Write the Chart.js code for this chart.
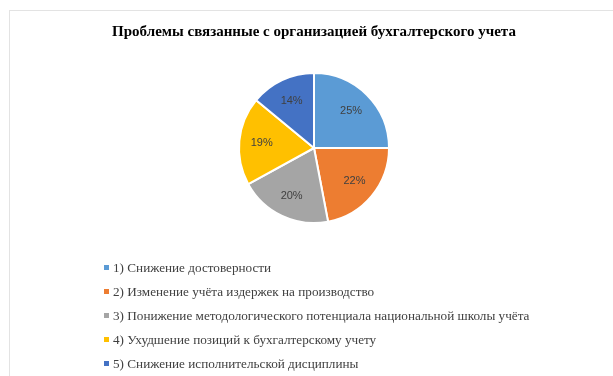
<!DOCTYPE html>
<html>
<head>
<meta charset="utf-8">
<script src="https://cdn.jsdelivr.net/npm/chart.js@4"></script>
<style>
  body { margin: 0; background: #fff; }
  #wrap { position: relative; width: 613px; height: 376px; overflow: hidden; }
  #frame { position: absolute; left: 9px; top: 10px; width: 620px; height: 380px;
           border-left: 1px solid #e3e3e3; border-top: 1px solid #e3e3e3; }
  #pieChart { position: absolute; left: 0; top: 0; }
  #legend { position: absolute; left: 104px; top: 259px; font-family: 'Liberation Serif', serif;
            font-size: 13.2px; color: #404040; }
  #legend div { height: 24px; line-height: 18px; white-space: nowrap; }
  #legend span.box { display: inline-block; width: 5px; height: 5px; margin-right: 4px; vertical-align: 2px; }
</style>
</head>
<body>
<div id="wrap">
  <div id="frame"></div>
  <canvas id="pieChart" width="613" height="376"></canvas>
  <div id="legend"></div>
</div>
<script>
// chart data
const title = 'Проблемы связанные с организацией бухгалтерского учета';
const labels = [
  '1) Снижение достоверности',
  '2) Изменение учёта издержек на производство',
  '3) Понижение методологического потенциала национальной школы учёта',
  '4) Ухудшение позиций к бухгалтерскому учету',
  '5) Снижение исполнительской дисциплины',
];
const values = [25, 22, 20, 19, 14];
const colors = ['#5B9BD5', '#ED7D31', '#A5A5A5', '#FFC000', '#4472C4'];

// percent labels inside the slices
const sliceLabels = {
  id: 'sliceLabels',
  afterDatasetsDraw(chart) {
    const ctx = chart.ctx;
    const meta = chart.getDatasetMeta(0);
    const total = values.reduce((a, b) => a + b, 0);
    ctx.save();
    ctx.font = '11px "Liberation Sans", sans-serif';
    ctx.fillStyle = '#404040';
    ctx.textAlign = 'center';
    ctx.textBaseline = 'middle';
    meta.data.forEach((arc, i) => {
      const { x, y, startAngle, endAngle, outerRadius } = arc.getProps(['x', 'y', 'startAngle', 'endAngle', 'outerRadius'], true);
      const mid = (startAngle + endAngle) / 2;
      const r = outerRadius * 0.7;
      ctx.fillText(Math.round(values[i] / total * 100) + '%', x + Math.cos(mid) * r, y + Math.sin(mid) * r);
    });
    ctx.restore();
  }
};

const chart = new Chart(document.getElementById('pieChart'), {
  type: 'pie',
  data: {
    labels,
    datasets: [{
      data: values,
      backgroundColor: colors,
      borderColor: '#ffffff',
      borderWidth: 2,
    }],
  },
  options: {
    responsive: false,
    animation: false,
    layout: { padding: { top: 10, bottom: 152, left: 20, right: 5 } },
    plugins: {
      legend: { display: false },
      tooltip: { enabled: false },
      title: {
        display: true,
        text: title,
        color: '#000',
        font: { family: "'Liberation Serif', serif", size: 15, weight: 'bold' },
        padding: { top: 13, bottom: 31 },
      },
    },
  },
  plugins: [sliceLabels],
});

// html legend from the chart's own legend items
const legendEl = document.getElementById('legend');
chart.options.plugins.legend.labels.generateLabels(chart).forEach((item) => {
  const row = document.createElement('div');
  const box = document.createElement('span');
  box.className = 'box';
  box.style.background = item.fillStyle;
  row.appendChild(box);
  row.appendChild(document.createTextNode(item.text));
  legendEl.appendChild(row);
});
</script>
</body>
</html>
